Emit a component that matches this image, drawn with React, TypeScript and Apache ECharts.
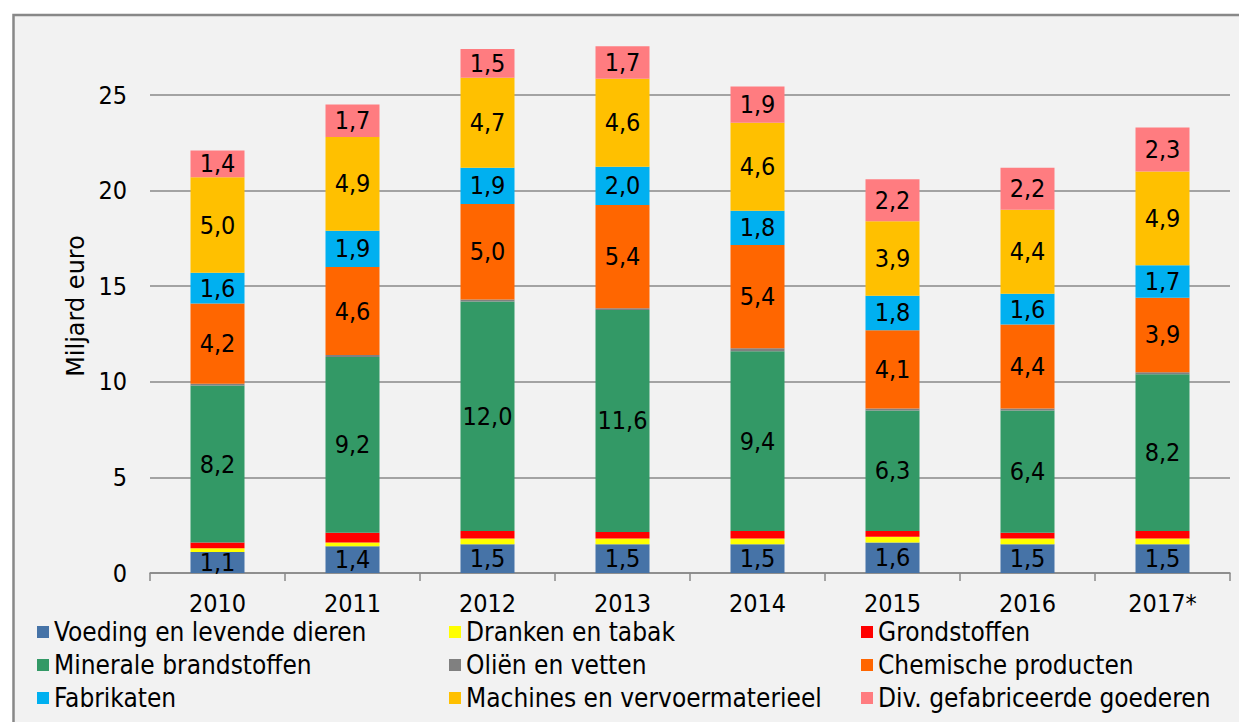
import React, { useEffect, useRef } from "react";
import * as echarts from "echarts";

const years = ["2010", "2011", "2012", "2013", "2014", "2015", "2016", "2017*"];
const yTicks = { min: 0, max: 25, interval: 5 };

const seriesNames = [
  "Voeding en levende dieren",
  "Dranken en tabak",
  "Grondstoffen",
  "Minerale brandstoffen",
  "Oliën en vetten",
  "Chemische producten",
  "Fabrikaten",
  "Machines en vervoermaterieel",
  "Div. gefabriceerde goederen",
];

const voeding = [1.1, 1.4, 1.5, 1.5, 1.5, 1.6, 1.5, 1.5];
const dranken = [0.2, 0.2, 0.3, 0.3, 0.3, 0.3, 0.3, 0.3];
const grondstoffen = [0.3, 0.5, 0.4, 0.35, 0.4, 0.3, 0.3, 0.4];
const minerale = [8.2, 9.2, 12.0, 11.6, 9.4, 6.3, 6.4, 8.2];
const olien = [0.1, 0.1, 0.1, 0.1, 0.15, 0.1, 0.1, 0.1];
const chemische = [4.2, 4.6, 5.0, 5.4, 5.4, 4.1, 4.4, 3.9];
const fabrikaten = [1.6, 1.9, 1.9, 2.0, 1.8, 1.8, 1.6, 1.7];
const machines = [5.0, 4.9, 4.7, 4.6, 4.6, 3.9, 4.4, 4.9];
const div = [1.4, 1.7, 1.5, 1.7, 1.9, 2.2, 2.2, 2.3];

const seriesData = [voeding, dranken, grondstoffen, minerale, olien, chemische, fabrikaten, machines, div];
const seriesColors = ["#4673a7", "#ffff00", "#ff0000", "#339966", "#808080", "#ff6600", "#00b0f0", "#ffc000", "#ff7c80"];
const showLabel = [true, false, false, true, false, true, true, true, true];

const legendColumns = [
  [seriesNames[0], seriesNames[3], seriesNames[6]],
  [seriesNames[1], seriesNames[4], seriesNames[7]],
  [seriesNames[2], seriesNames[5], seriesNames[8]],
];

const FONT = "DejaVu Sans Condensed";

export default function App() {
  const ref = useRef<HTMLDivElement>(null);
  useEffect(() => {
    document.body.style.margin = "0";
    if (!ref.current) return;
    const chart = echarts.init(ref.current, undefined, { renderer: "svg" });
    const legendLefts = [37, 449, 861];
    chart.setOption({
      animation: false,
      backgroundColor: "#ffffff",
      textStyle: { fontFamily: FONT },
      graphic: [
        {
          type: "rect",
          z: -10,
          shape: { x: 13.5, y: 15, width: 1240, height: 720 },
          style: { fill: "#f2f2f2", stroke: "#888888", lineWidth: 2.5 },
        },
        {
          type: "text",
          z: 10,
          x: 76,
          y: 306,
          rotation: Math.PI / 2,
          style: {
            text: "Miljard euro",
            font: "24px 'DejaVu Sans'",
            fill: "#000",
            align: "center",
            verticalAlign: "middle",
          },
        },
      ],
      legend: legendColumns.map((col, i) => ({
        orient: "vertical",
        left: legendLefts[i],
        top: 619,
        padding: 0,
        itemWidth: 12,
        itemHeight: 12,
        itemGap: 7,
        icon: "rect",
        data: col,
        selectedMode: false,
        textStyle: { fontFamily: FONT, fontSize: 26, color: "#000", lineHeight: 26 },
      })),
      grid: { left: 150, right: 9, top: 95, bottom: 149 },
      xAxis: {
        type: "category",
        data: years,
        axisLine: { lineStyle: { color: "#888", width: 1.5 } },
        axisTick: { show: true, length: 8, lineStyle: { color: "#888", width: 1.5 } },
        axisLabel: { color: "#000", fontSize: 25, fontFamily: FONT, margin: 18 },
      },
      yAxis: {
        type: "value",
        min: yTicks.min,
        max: yTicks.max,
        interval: yTicks.interval,
        axisLine: { show: false },
        axisTick: { show: false },
        splitLine: { lineStyle: { color: "#888", width: 1.5 } },
        axisLabel: { color: "#000", fontSize: 25, fontFamily: FONT, margin: 23 },
      },
      series: seriesNames.map((name, i) => ({
        name,
        type: "bar",
        stack: "total",
        clip: false,
        barWidth: "40%",
        data: seriesData[i],
        itemStyle: { color: seriesColors[i] },
        label: {
          show: showLabel[i],
          position: "inside",
          color: "#000",
          fontSize: 25,
          fontFamily: FONT,
          formatter: (p: any) => Number(p.value).toFixed(1).replace(".", ","),
        },
      })),
    });
    return () => chart.dispose();
  }, []);
  return <div ref={ref} style={{ width: 1239, height: 722 }} />;
}
